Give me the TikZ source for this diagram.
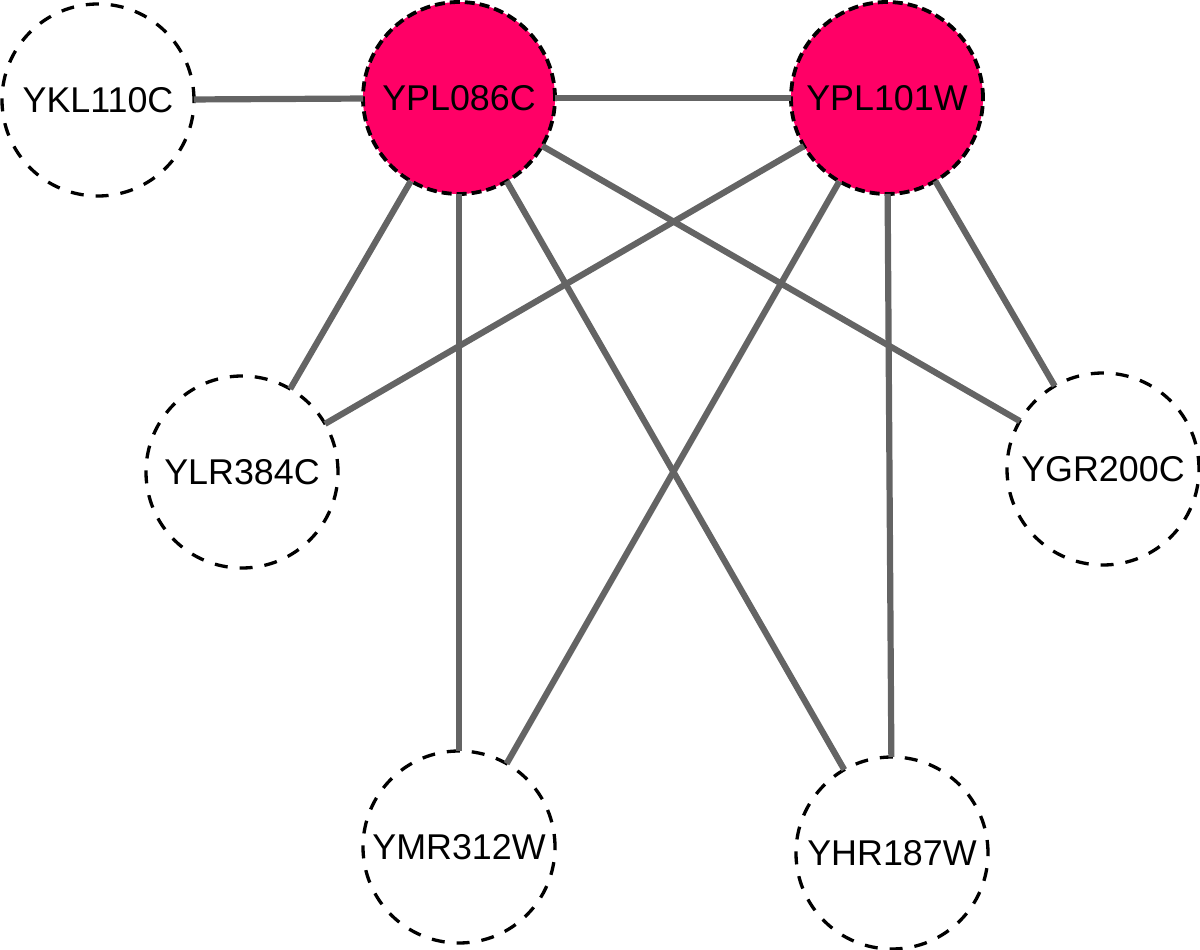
\documentclass[tikz,border=0pt]{standalone}
\usepackage{fontspec}
\setmainfont{Liberation Sans}
\definecolor{hub}{HTML}{FF0066}
\definecolor{edgegray}{HTML}{646464}
\tikzset{
  gene/.style={circle, draw=black, line width=0.033cm, dash pattern=on 0.13cm off 0.12cm,
    minimum size=1.92cm, inner sep=0pt, outer sep=0pt, font=\fontsize{10.2}{12}\selectfont},
  hubgene/.style={gene, fill=hub, line width=0.038cm, dash pattern=on 0.10cm off 0.05cm},
  link/.style={draw=edgegray, line width=0.062cm}
}
\begin{document}
\begin{tikzpicture}
\useasboundingbox (0,0) rectangle (12,-9.5);
\node[gene] (ykl) at (0.98,-1.00) {YKL110C};
\node[hubgene] (p086) at (4.59,-0.98) {YPL086C};
\node[hubgene] (p101) at (8.87,-0.98) {YPL101W};
\node[gene] (ylr) at (2.42,-4.72) {YLR384C};
\node[gene] (ygr) at (11.03,-4.69) {YGR200C};
\node[gene] (ymr) at (4.59,-8.47) {YMR312W};
\node[gene] (yhr) at (8.92,-8.53) {YHR187W};
\path[link] (ykl) -- (p086);
\path[link] (p086) -- (p101);
\path[link] (p086) -- (ylr);
\path[link] (p086) -- (ymr);
\path[link] (p086) -- (yhr);
\path[link] (p086) -- (ygr);
\path[link] (p101) -- (ylr);
\path[link] (p101) -- (ymr);
\path[link] (p101) -- (yhr);
\path[link] (p101) -- (ygr);
\end{tikzpicture}
\end{document}
